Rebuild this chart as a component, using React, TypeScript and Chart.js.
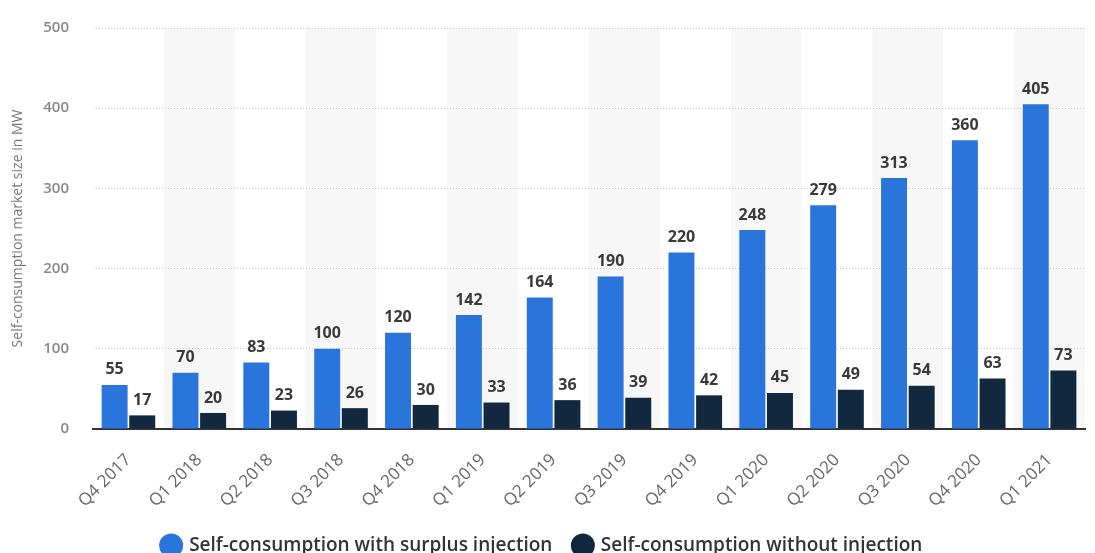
import React, { useEffect, useRef } from "react";
import { Chart, registerables } from "chart.js";

Chart.register(...registerables);

const categories = ["Q4 2017", "Q1 2018", "Q2 2018", "Q3 2018", "Q4 2018", "Q1 2019", "Q2 2019", "Q3 2019", "Q4 2019", "Q1 2020", "Q2 2020", "Q3 2020", "Q4 2020", "Q1 2021"];
const surplusValues = [55, 70, 83, 100, 120, 142, 164, 190, 220, 248, 279, 313, 360, 405];
const withoutValues = [17, 20, 23, 26, 30, 33, 36, 39, 42, 45, 49, 54, 63, 73];
const seriesNames = ["Self-consumption with surplus injection", "Self-consumption without injection"];
const yAxisTitle = "Self-consumption market size in MW";

const FONT = "'Open Sans', 'DejaVu Sans', sans-serif";

const bandPlugin = {
  id: "bands",
  beforeDraw(chart: any) {
    const { ctx, chartArea, scales } = chart;
    const x = scales.x;
    const w = (x.getPixelForValue(1) - x.getPixelForValue(0));
    ctx.save();
    ctx.fillStyle = "#f7f7f7";
    for (let i = 1; i < categories.length; i += 2) {
      const c = x.getPixelForValue(i);
      ctx.fillRect(c - w / 2, chartArea.top, w, chartArea.bottom - chartArea.top);
    }
    ctx.restore();
  },
};

const valueLabelPlugin = {
  id: "valueLabels",
  afterDatasetsDraw(chart: any) {
    const { ctx } = chart;
    ctx.save();
    ctx.font = `bold 16px ${FONT}`;
    ctx.fillStyle = "#3a3a3a";
    ctx.textAlign = "center";
    ctx.textBaseline = "bottom";
    chart.data.datasets.forEach((ds: any, di: number) => {
      const meta = chart.getDatasetMeta(di);
      meta.data.forEach((el: any, i: number) => {
        ctx.fillText(String(ds.data[i]), el.x, el.y - 7);
      });
    });
    ctx.restore();
  },
};

export default function App() {
  const ref = useRef<HTMLCanvasElement | null>(null);
  useEffect(() => {
    if (!ref.current) return;
    const chart = new Chart(ref.current, {
      type: "bar",
      data: {
        labels: categories,
        datasets: [
          { label: seriesNames[0], data: surplusValues, backgroundColor: "#2a75dc", borderWidth: 0 },
          { label: seriesNames[1], data: withoutValues, backgroundColor: "#12283f", borderWidth: 0 },
        ],
      },
      options: {
        responsive: false,
        animation: false,
        datasets: { bar: { categoryPercentage: 0.78, barPercentage: 0.94 } },
        layout: { padding: { left: 0, right: 10, top: 28, bottom: -12 } },
        plugins: {
          legend: {
            position: "bottom",
            labels: {
              usePointStyle: true,
              pointStyle: "circle",
              boxWidth: 17,
              boxHeight: 17,
              padding: 22,
              color: "#333",
              font: { family: FONT, size: 19, weight: "600" },
            },
          },
          tooltip: { enabled: false },
        },
        scales: {
          x: {
            grid: { display: false },
            border: { display: true, color: "#333", width: 2 },
            ticks: {
              color: "#666",
              font: { family: FONT, size: 17 },
              minRotation: 45,
              maxRotation: 45,
              padding: 13,
            },
            afterFit(scale: any) { scale.height = 85; },
          },
          y: {
            min: 0,
            max: 500,
            ticks: {
              stepSize: 100,
              color: "#888",
              font: { family: FONT, size: 15, weight: "600" },
              padding: 24,
            },
            grid: { color: "#c8c8c8", drawTicks: false, lineWidth: 1 },
            border: { display: false, dash: [1, 2] },
            title: {
              display: true,
              text: yAxisTitle,
              color: "#777",
              font: { family: FONT, size: 14 },
              padding: { top: 10, bottom: 0 },
            },
            afterFit(scale: any) { scale.width = 93; scale.paddingTop = 0; scale.paddingBottom = 0; },
          },
        },
      },
      plugins: [bandPlugin, valueLabelPlugin],
    });
    return () => chart.destroy();
  }, []);
  return (
    <div style={{ position: "absolute", left: 0, top: 0, width: 1095, height: 553, background: "#fff" }}>
      <canvas ref={ref} width={1095} height={553} />
    </div>
  );
}
